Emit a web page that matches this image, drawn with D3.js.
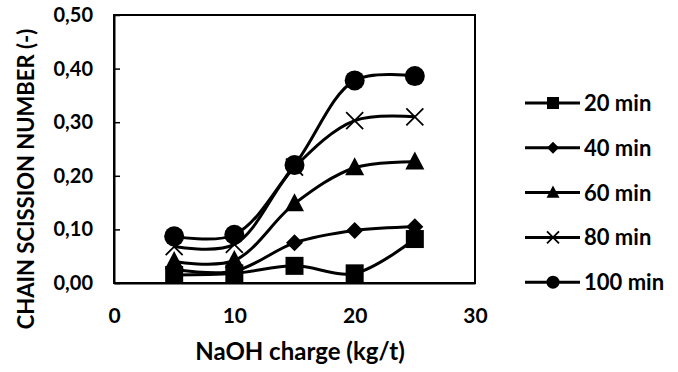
<!DOCTYPE html>
<html><head><meta charset="utf-8">
<script src="https://cdn.jsdelivr.net/npm/d3@7"></script>
<style>body{margin:0;background:#fff}svg{display:block}text{font-family:Lato,"Open Sans",sans-serif;font-weight:700;fill:#000}</style>
</head><body><svg id="c" width="678" height="372"></svg>
<script>
const charges = [5, 10, 15, 20, 25];
const seriesNames = ["20 min", "40 min", "60 min", "80 min", "100 min"];
const s20 = [0.015, 0.018, 0.032, 0.018, 0.082];
const s40 = [0.025, 0.022, 0.075, 0.098, 0.105];
const s60 = [0.040, 0.042, 0.148, 0.215, 0.226];
const s80 = [0.068, 0.072, 0.216, 0.303, 0.310];
const s100 = [0.087, 0.090, 0.220, 0.378, 0.386];
const symbols = ["square", "diamond", "triangle", "cross", "circle"];
const xTicks = [0, 10, 20, 30];
const yTicks = [0, 0.1, 0.2, 0.3, 0.4, 0.5];

const series = [s20, s40, s60, s80, s100];
const svg = d3.select("#c");
const L = 114, R = 475, T = 15, B = 283;
const x = d3.scaleLinear().domain([0, 30]).range([L, R]);
const y = d3.scaleLinear().domain([0, 0.5]).range([B, T]);
const fmt = v => d3.format(".2f")(v).replace(".", ",");

// frame
svg.append("rect").attr("x", L).attr("y", T).attr("width", R - L).attr("height", B - T)
  .attr("fill", "none").attr("stroke", "#000").attr("stroke-width", 2);

// y axis
const ya = svg.append("g").attr("transform", `translate(${L},0)`)
  .call(d3.axisLeft(y).tickValues(yTicks).tickFormat(fmt).tickSizeInner(-6).tickSizeOuter(0).tickPadding(21));
ya.select(".domain").attr("stroke-width", 2);
ya.selectAll(".tick line").attr("stroke-width", 1.5);
ya.selectAll("text").style("font-size", "20px");

// x axis
const xa = svg.append("g").attr("transform", `translate(0,${B})`)
  .call(d3.axisBottom(x).tickValues(xTicks).tickFormat(d3.format("d")).tickSize(0).tickPadding(25));
xa.select(".domain").attr("stroke-width", 2);
xa.selectAll("text").style("font-size", "21px");

svg.append("text").attr("x", 300).attr("y", 360).attr("text-anchor", "middle")
  .style("font-size", "24px").text("NaOH charge (kg/t)");
svg.append("text").attr("transform", "translate(26,179) rotate(-90)").attr("text-anchor", "middle")
  .attr("dy", "0.36em").style("font-size", "22px").text("CHAIN SCISSION NUMBER (-)");

const line = d3.line().x((d, i) => x(charges[i])).y(d => y(d)).curve(d3.curveCatmullRom.alpha(0.5));

function marker(g, type, cx, cy, s) {
  if (type === "square") g.append("rect").attr("x", cx - s / 2).attr("y", cy - s / 2).attr("width", s).attr("height", s).attr("fill", "#000");
  else if (type === "circle") g.append("circle").attr("cx", cx).attr("cy", cy).attr("r", s / 2).attr("fill", "#000");
  else if (type === "diamond") g.append("path").attr("d", `M${cx},${cy - s / 2}L${cx + s / 2},${cy}L${cx},${cy + s / 2}L${cx - s / 2},${cy}Z`).attr("fill", "#000");
  else if (type === "triangle") g.append("path").attr("d", `M${cx},${cy - s * 0.55}L${cx + s / 2},${cy + s * 0.4}L${cx - s / 2},${cy + s * 0.4}Z`).attr("fill", "#000");
  else if (type === "cross") g.append("path").attr("d", `M${cx - s / 2},${cy - s / 2}L${cx + s / 2},${cy + s / 2}M${cx - s / 2},${cy + s / 2}L${cx + s / 2},${cy - s / 2}`).attr("stroke", "#000").attr("stroke-width", 1.8).attr("fill", "none");
}
const sizes = {square: 18, circle: 20, diamond: 17, triangle: 19, cross: 17};

series.forEach((vals, k) => {
  const g = svg.append("g");
  g.append("path").attr("d", line(vals)).attr("fill", "none").attr("stroke", "#000").attr("stroke-width", 3);
  vals.forEach((v, i) => marker(g, symbols[k], x(charges[i]), y(v), sizes[symbols[k]]));
});

// legend
const lsz = {square: 12, circle: 13, diamond: 12, triangle: 13, cross: 12};
seriesNames.forEach((n, k) => {
  const yy = 103 + k * 44.8;
  const g = svg.append("g");
  g.append("line").attr("x1", 525).attr("x2", 580).attr("y1", yy).attr("y2", yy).attr("stroke", "#000").attr("stroke-width", 3);
  marker(g, symbols[k], 553, yy, lsz[symbols[k]]);
  g.append("text").attr("x", 584).attr("y", yy).attr("dy", "0.36em").style("font-size", "22px").text(n);
});
</script></body></html>
